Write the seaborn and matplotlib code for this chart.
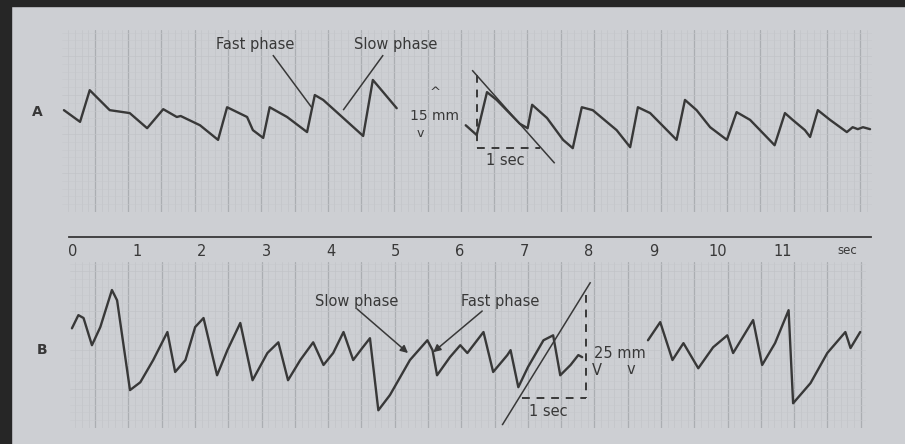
import numpy as np
import pandas as pd
import matplotlib
matplotlib.use("Agg")
import matplotlib.pyplot as plt
import seaborn as sns
from matplotlib.patches import Rectangle

# ---------------- data (time in s, eye position in mm) ----------------
# Trace A, first part
a1_t = [-0.14, 0.11, 0.26, 0.57, 0.88, 1.15, 1.40, 1.61, 1.67, 1.97, 2.25, 2.39,
        2.70, 2.79, 2.95, 3.05, 3.32, 3.63, 3.75, 3.88, 4.09, 4.50, 4.65, 4.81, 5.02]
a1_mm = [1.0, -1.4, 5.1, 1.0, 0.4, -2.7, 1.2, -0.4, -0.2, -2.1, -5.1, 1.6,
         -0.4, -3.1, -4.7, 1.6, -0.4, -3.5, 4.1, 3.1, 0.6, -4.3, 7.2, 4.7, 1.4]
# Trace A, second part
a2_t = [6.09, 6.26, 6.42, 6.57, 6.93, 7.05, 7.12, 7.35, 7.60, 7.75, 7.89, 8.06,
        8.43, 8.64, 8.76, 8.95, 9.36, 9.49, 9.67, 9.88, 10.14, 10.29, 10.50, 10.88,
        11.04, 11.16, 11.35, 11.43, 11.55, 11.74, 12.00, 12.09, 12.17, 12.25, 12.36]
a2_mm = [-2.1, -4.1, 4.7, 3.1, -1.8, -2.7, 2.1, -0.6, -5.1, -6.8, 1.6, 1.0,
         -3.1, -6.6, 1.6, 0.4, -5.1, 3.1, 1.0, -2.5, -5.1, 0.6, -1.0, -6.2,
         0.4, -1.0, -3.1, -4.5, 1.0, -1.0, -3.5, -2.5, -2.9, -2.5, -2.9]
# Trace B, first part
b1_t = [-0.02, 0.08, 0.16, 0.29, 0.42, 0.60, 0.68, 0.88, 1.04, 1.24, 1.46, 1.58,
        1.74, 1.89, 2.02, 2.23, 2.39, 2.59, 2.78, 3.01, 3.18, 3.33, 3.52, 3.72,
        3.88, 4.03, 4.19, 4.34, 4.48, 4.60, 4.73, 4.91, 5.22, 5.49, 5.57, 5.64,
        5.84, 6.00, 6.11, 6.36, 6.51, 6.73, 6.78, 6.90, 7.05, 7.29, 7.44, 7.55,
        7.71, 7.83, 7.89]
b1_mm = [5.3, 8.5, 7.8, 1.2, 5.6, 14.6, 12.1, -9.7, -7.8, -2.4, 4.4, -5.3,
         -2.4, 5.6, 7.8, -6.1, 0.0, 6.6, -7.3, -0.7, 1.9, -7.3, -2.4, 1.9,
         -3.6, -0.7, 4.4, -2.4, 0.5, 2.9, -14.6, -10.9, -2.4, 2.4, 0.0, -6.1,
         -1.7, 1.2, -0.7, 4.4, -5.3, -1.2, 0.0, -9.0, -4.1, 2.4, 3.6, -6.1,
         -3.6, -1.2, -1.7]
# Trace B, second part
b2_t = [8.91, 9.10, 9.29, 9.46, 9.69, 9.92, 10.14, 10.23, 10.54, 10.68, 10.88,
        11.09, 11.16, 11.43, 11.69, 11.97, 12.05, 12.20]
b2_mm = [2.4, 6.8, -2.4, 1.7, -4.4, 0.7, 3.6, -0.7, 7.3, -3.6, 1.7,
         9.7, -12.9, -8.0, -0.7, 4.4, 0.5, 4.4]

time_ticks = list(range(12))
time_labels = [str(i) for i in time_ticks] + ["sec"]

# ---------------- style ----------------
PAPER = "#cdcfd3"
INK = "#383838"
GRID_MAJ = "#abaeb2"
GRID_MIN = "#c2c4c8"

sns.set_style("white")
plt.rcParams["font.family"] = ["DejaVu Sans"]

W, H = 905, 444
fig = plt.figure(figsize=(W / 100, H / 100), dpi=100)
fig.patch.set_facecolor(PAPER)

# dark photo frame
fig.patches.append(Rectangle((0, 1 - 6 / H), 1, 6 / H, transform=fig.transFigure,
                             color="#262626", zorder=0))
fig.patches.append(Rectangle((0, 0), 11 / W, 1, transform=fig.transFigure,
                             color="#262626", zorder=0))


def px_axes(x0, y0, x1, y1):
    return fig.add_axes([x0 / W, 1 - y1 / H, (x1 - x0) / W, (y1 - y0) / H])


def paper_grid(ax, xlo, xhi, ylo, yhi, yminor):
    ax.set_facecolor(PAPER)
    for s in ax.spines.values():
        s.set_visible(False)
    ax.set_xticks(np.arange(0.34, xhi, 0.516))
    ax.set_xticks(np.arange(0.34 - 0.516, xhi, 0.1032), minor=True)
    ax.set_yticks(np.arange(ylo, yhi, yminor * 5))
    ax.set_yticks(np.arange(ylo, yhi, yminor), minor=True)
    ax.grid(which="major", axis="x", color=GRID_MAJ, lw=0.9)
    ax.grid(which="minor", axis="x", color=GRID_MIN, lw=0.5)
    ax.grid(which="major", axis="y", color=GRID_MIN, lw=0.5)
    ax.grid(which="minor", axis="y", color="#c6c8cc", lw=0.4)
    ax.tick_params(which="both", length=0, labelbottom=False, labelleft=False)
    ax.set_xlim(xlo, xhi)
    ax.set_ylim(ylo, yhi)
    ax.set_xlabel("")
    ax.set_ylabel("")


TXT = dict(color=INK, fontsize=10.5)
LINE = dict(color=INK, lw=1.1, solid_capstyle="butt")
DASH = dict(color=INK, lw=1.4, linestyle=(0, (4, 3.5)))

# ---------------- panel A ----------------
axA = px_axes(62, 30, 872, 212)
dfA = pd.DataFrame({"t": a1_t + a2_t, "mm": a1_mm + a2_mm,
                    "seg": [1] * len(a1_t) + [2] * len(a2_t)})
sns.lineplot(data=dfA, x="t", y="mm", units="seg", estimator=None, sort=False,
             color=INK, lw=1.7, ax=axA, legend=False)
paper_grid(axA, -0.17, 12.39, -19.9, 17.45, 1.6)

axA.text(2.82, 14.4, "Fast phase", ha="center", va="center", **TXT)
axA.plot([3.10, 3.71], [12.3, 1.4], **LINE)
axA.text(5.01, 14.4, "Slow phase", ha="center", va="center", **TXT)
axA.plot([4.81, 4.19], [12.3, 1.0], **LINE)
axA.text(5.61, 4.6, "^", ha="center", va="center", color=INK, fontsize=9.5)
axA.text(5.61, -0.2, "15 mm", ha="center", va="center", color=INK, fontsize=10)
axA.text(5.38, -3.7, "v", ha="center", va="center", color=INK, fontsize=9)
axA.plot([6.26, 6.26], [8.2, -6.8], **DASH)
axA.plot([6.26, 7.24], [-6.8, -6.8], **DASH)
axA.plot([6.19, 7.47], [9.2, -9.9], **LINE)
axA.text(6.70, -9.4, "1 sec", ha="center", va="center", **TXT)
axA.text(-0.56, 0.6, "A", ha="center", va="center", color=INK, fontsize=10,
         fontweight="bold")

# ---------------- time axis ----------------
axT = px_axes(69, 228, 871, 237)
axT.set_facecolor("none")
for k in ("top", "left", "right"):
    axT.spines[k].set_visible(False)
axT.spines["bottom"].set_color(INK)
axT.spines["bottom"].set_linewidth(1.3)
axT.set_xlim(-0.06, 12.37)
axT.set_ylim(0, 1)
axT.set_xticks(time_ticks + [12.0])
axT.set_xticklabels(time_labels)
axT.set_yticks([])
axT.tick_params(axis="x", direction="in", length=7, width=1.1, color=INK,
                labelsize=10.5, labelcolor=INK, pad=5)
for tk in (axT.xaxis.get_major_ticks()[0], axT.xaxis.get_major_ticks()[-1]):
    tk.tick1line.set_visible(False)
axT.get_xticklabels()[-1].set_fontsize(8.5)

# ---------------- panel B ----------------
axB = px_axes(70, 262, 866, 428)
dfB = pd.DataFrame({"t": b1_t + b2_t, "mm": b1_mm + b2_mm,
                    "seg": [1] * len(b1_t) + [2] * len(b2_t)})
sns.lineplot(data=dfB, x="t", y="mm", units="seg", estimator=None, sort=False,
             color=INK, lw=1.7, ax=axB, legend=False)
paper_grid(axB, -0.05, 12.29, -18.9, 21.4, 1.9)

axB.text(4.40, 11.9, "Slow phase", ha="center", va="center", **TXT)
axB.annotate("", xy=(5.19, -0.7), xytext=(4.40, 10.0),
             arrowprops=dict(arrowstyle="-|>", color=INK, lw=1.1, mutation_scale=11,
                             shrinkA=0, shrinkB=0))
axB.text(6.62, 11.9, "Fast phase", ha="center", va="center", **TXT)
axB.annotate("", xy=(5.58, -0.5), xytext=(6.34, 9.5),
             arrowprops=dict(arrowstyle="-|>", color=INK, lw=1.1, mutation_scale=11,
                             shrinkA=0, shrinkB=0))
axB.plot([6.65, 8.02], [-18.2, 16.5], **LINE)
axB.plot([7.95, 7.95], [13.3, -11.7], **DASH)
axB.plot([6.96, 7.95], [-11.7, -11.7], **DASH)
axB.text(7.36, -15.0, "1 sec", ha="center", va="center", **TXT)
axB.text(8.08, -0.7, "25 mm", ha="left", va="center", **TXT)
axB.text(8.12, -5.0, "V", ha="center", va="center", **TXT)
axB.text(8.64, -4.6, "v", ha="center", va="center", **TXT)
axB.text(-0.48, 0.0, "B", ha="center", va="center", color=INK, fontsize=10,
         fontweight="bold")

fig.savefig("out.png", dpi=100, facecolor=fig.get_facecolor())
